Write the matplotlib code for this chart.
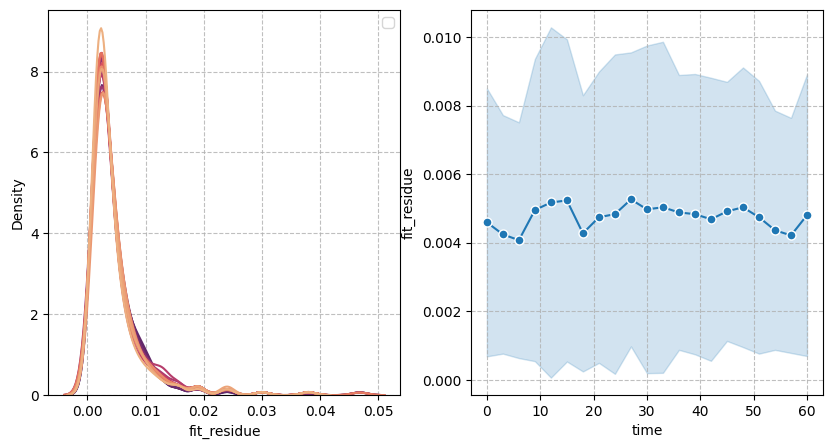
import numpy as np
import pandas as pd
import matplotlib
matplotlib.use("Agg")
import matplotlib.pyplot as plt
import seaborn as sns

# time points (minutes)
times = [0, 3, 6, 9, 12, 15, 18, 21, 24, 27, 30, 33, 36, 39, 42, 45, 48, 51, 54, 57, 60]

# binned fit residues: bin values and number of observations per time point
residue_bins = [0.0003, 0.0012, 0.0019, 0.0026, 0.0033, 0.0040, 0.0048, 0.0056, 0.0065, 0.0075,
                0.0086, 0.0098, 0.0112, 0.0130, 0.0155, 0.0190, 0.0240, 0.0300, 0.0380, 0.0468]
residue_counts = [
    [5, 26, 46, 38, 23, 15, 13, 10, 8, 6, 5, 4, 4, 3, 3, 2, 2, 1, 1, 0],
    [6, 23, 37, 35, 25, 17, 14, 11, 9, 7, 6, 5, 4, 3, 3, 3, 3, 1, 1, 0],
    [6, 19, 30, 31, 26, 19, 16, 12, 10, 8, 6, 5, 4, 3, 3, 3, 2, 1, 1, 0],
    [7, 24, 39, 34, 23, 16, 14, 11, 9, 7, 6, 5, 5, 4, 3, 3, 2, 1, 1, 0],
    [5, 22, 35, 34, 25, 18, 15, 12, 10, 8, 6, 5, 4, 4, 3, 3, 2, 1, 1, 1],
    [6, 26, 41, 35, 24, 16, 13, 10, 8, 7, 6, 5, 4, 4, 3, 3, 2, 1, 1, 0],
    [6, 23, 36, 34, 24, 18, 15, 12, 9, 7, 6, 5, 4, 4, 3, 3, 2, 1, 1, 1],
    [7, 25, 39, 35, 24, 17, 13, 10, 9, 7, 6, 5, 4, 4, 3, 2, 2, 1, 1, 0],
    [5, 23, 37, 35, 25, 18, 14, 11, 9, 7, 6, 5, 5, 4, 3, 3, 2, 1, 1, 0],
    [6, 24, 38, 34, 24, 17, 14, 11, 9, 7, 6, 5, 4, 4, 3, 3, 2, 1, 1, 0],
    [6, 25, 41, 36, 24, 16, 13, 10, 8, 6, 5, 5, 4, 5, 3, 3, 2, 1, 1, 0],
    [6, 24, 38, 34, 23, 16, 13, 10, 8, 7, 6, 5, 5, 7, 4, 3, 2, 1, 1, 0],
    [5, 23, 37, 35, 24, 17, 14, 11, 9, 7, 6, 5, 5, 5, 4, 3, 2, 1, 1, 0],
    [6, 25, 39, 34, 23, 17, 14, 11, 9, 7, 6, 5, 4, 4, 3, 3, 2, 1, 1, 1],
    [6, 24, 38, 35, 24, 17, 14, 11, 9, 7, 6, 6, 5, 4, 3, 2, 2, 1, 1, 0],
    [7, 25, 40, 35, 23, 16, 13, 11, 9, 7, 6, 5, 4, 4, 3, 3, 2, 1, 1, 0],
    [6, 24, 38, 34, 23, 17, 14, 12, 10, 8, 7, 6, 4, 3, 3, 2, 2, 1, 0, 1],
    [5, 23, 37, 35, 24, 17, 15, 12, 10, 8, 7, 6, 5, 3, 2, 2, 2, 1, 1, 1],
    [6, 24, 38, 34, 23, 16, 14, 12, 10, 8, 8, 7, 5, 3, 2, 2, 1, 1, 1, 0],
    [6, 24, 39, 35, 23, 16, 14, 12, 10, 8, 7, 6, 5, 3, 2, 2, 2, 1, 0, 1],
    [6, 24, 38, 34, 23, 17, 15, 12, 10, 8, 8, 6, 5, 3, 2, 2, 1, 1, 1, 0],
]

# mean and standard deviation of fit residue per time point
residue_mean = [0.00460, 0.00425, 0.00408, 0.00496, 0.00518, 0.00524, 0.00428, 0.00475, 0.00484, 0.00527,
                0.00498, 0.00504, 0.00489, 0.00484, 0.00469, 0.00492, 0.00504, 0.00475, 0.00437, 0.00422,
                0.00481]
residue_sd = [0.00391, 0.00348, 0.00344, 0.00441, 0.00511, 0.00470, 0.00403, 0.00425, 0.00466, 0.00429,
              0.00478, 0.00483, 0.00401, 0.00409, 0.00413, 0.00378, 0.00408, 0.00398, 0.00349, 0.00343,
              0.00411]

# one row per observation
obs_time = []
obs_residue = []
for t, counts in zip(times, residue_counts):
    obs_time += [t] * sum(counts)
    obs_residue += list(np.repeat(residue_bins, counts))
df = pd.DataFrame({"time": obs_time, "fit_residue": obs_residue})

fig, (ax1, ax2) = plt.subplots(1, 2, figsize=(8.33, 4.48), dpi=100)
fig.subplots_adjust(left=0.058, right=0.988, bottom=0.118, top=0.978, wspace=0.2)

sns.kdeplot(data=df, x="fit_residue", hue="time", palette="flare",
            bw_method=0.25, legend=False, ax=ax1)
ax1.set_xlabel("fit_residue")
ax1.set_ylabel("Density")
ax1.grid(True, linestyle="--", alpha=0.8)
ax1.legend(handles=[])

mean = np.array(residue_mean)
sd = np.array(residue_sd)
ax2.fill_between(times, mean - sd, mean + sd, color="C0", alpha=0.2)
ax2.plot(times, mean, color="C0", marker="o", markeredgecolor="white", markersize=6.5, linewidth=1.5)
ax2.set_xlabel("time")
ax2.set_ylabel("fit_residue")
ax2.grid(True, linestyle="--", alpha=0.8)

fig.savefig("out.png")
